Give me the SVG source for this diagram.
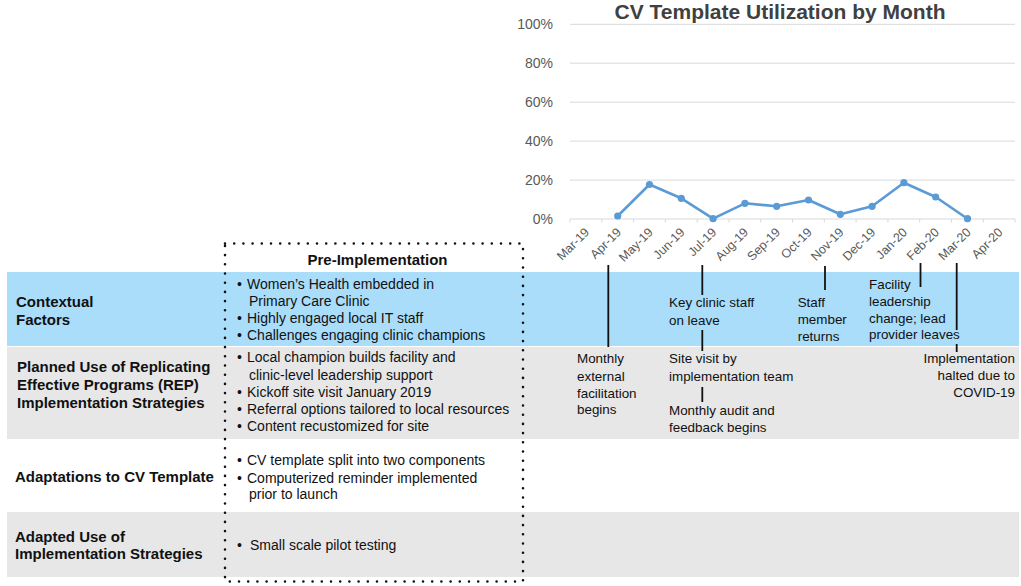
<svg xmlns="http://www.w3.org/2000/svg" width="1021" height="586" viewBox="0 0 1021 586">
<style>
.bg{fill:#ffffff}
.blue{fill:#a9ddfa}
.gray{fill:#e7e7e7}
.rowlab{font-family:"Liberation Sans",Arial,sans-serif;font-size:15px;font-weight:bold;fill:#111}
.bul{font-family:"Liberation Sans",Arial,sans-serif;font-size:14px;fill:#111}
.ann{font-family:"Liberation Sans",Arial,sans-serif;font-size:13.4px;fill:#111}
.title{font-family:"Liberation Sans",Arial,sans-serif;font-size:21px;font-weight:bold;fill:#404040}
.ylab{font-family:"Liberation Sans",Arial,sans-serif;font-size:14px;fill:#595959}
.xlab{font-family:"Liberation Sans",Arial,sans-serif;font-size:12.5px;fill:#595959}
.grid{stroke:#d9d9d9;stroke-width:1;fill:none}
.series{stroke:#5b9bd5;stroke-width:2.6;fill:none;stroke-linejoin:round}
.pt{fill:#5b9bd5}
.conn{stroke:#111;stroke-width:1.8;fill:none}
.dots{fill:none;stroke:#111;stroke-width:2.6;stroke-linecap:round;stroke-dasharray:0 9.2}
</style>
<rect class="bg" x="0" y="0" width="1021" height="586"/>

<g id="row-contextual">
<rect class="blue" x="7" y="272" width="1012" height="74"/>
<text class="rowlab" x="16" y="307">Contextual</text>
<text class="rowlab" x="16" y="325">Factors</text>
</g>
<g id="row-planned">
<rect class="gray" x="7" y="347" width="1012" height="92"/>
<text class="rowlab" x="17" y="372">Planned Use of Replicating</text>
<text class="rowlab" x="17" y="390">Effective Programs (REP)</text>
<text class="rowlab" x="17" y="408">Implementation Strategies</text>
</g>
<g id="row-adaptations">
<text class="rowlab" x="15" y="482">Adaptations to CV Template</text>
</g>
<g id="row-adapted">
<rect class="gray" x="7" y="512" width="1012" height="65"/>
<text class="rowlab" x="15" y="542">Adapted Use of</text>
<text class="rowlab" x="15" y="559">Implementation Strategies</text>
</g>

<g id="chart">
<text class="title" x="780" y="18.5" text-anchor="middle">CV Template Utilization by Month</text>
<g>
<line class="grid" x1="570" y1="24.3" x2="1015" y2="24.3"/>
<line class="grid" x1="570" y1="63.2" x2="1015" y2="63.2"/>
<line class="grid" x1="570" y1="102.2" x2="1015" y2="102.2"/>
<line class="grid" x1="570" y1="141.1" x2="1015" y2="141.1"/>
<line class="grid" x1="570" y1="180.1" x2="1015" y2="180.1"/>
<line class="grid" x1="570" y1="219" x2="1015" y2="219"/>
<path class="grid" d="M570,219v3.5M601.8,219v3.5M633.6,219v3.5M665.4,219v3.5M697.2,219v3.5M729,219v3.5M760.7,219v3.5M792.5,219v3.5M824.3,219v3.5M856.1,219v3.5M887.9,219v3.5M919.7,219v3.5M951.5,219v3.5M983.3,219v3.5M1015,219v3.5"/>
</g>
<g text-anchor="end">
<text class="ylab" x="553" y="29.3">100%</text>
<text class="ylab" x="553" y="68.2">80%</text>
<text class="ylab" x="553" y="107.2">60%</text>
<text class="ylab" x="553" y="146.1">40%</text>
<text class="ylab" x="553" y="185.1">20%</text>
<text class="ylab" x="553" y="224">0%</text>
</g>
<g text-anchor="end">
<text class="xlab" transform="translate(590,233) rotate(-45)">Mar-19</text>
<text class="xlab" transform="translate(621.8,233) rotate(-45)">Apr-19</text>
<text class="xlab" transform="translate(653.6,233) rotate(-45)">May-19</text>
<text class="xlab" transform="translate(685.4,233) rotate(-45)">Jun-19</text>
<text class="xlab" transform="translate(717.2,233) rotate(-45)">Jul-19</text>
<text class="xlab" transform="translate(749,233) rotate(-45)">Aug-19</text>
<text class="xlab" transform="translate(780.8,233) rotate(-45)">Sep-19</text>
<text class="xlab" transform="translate(812.6,233) rotate(-45)">Oct-19</text>
<text class="xlab" transform="translate(844.4,233) rotate(-45)">Nov-19</text>
<text class="xlab" transform="translate(876.2,233) rotate(-45)">Dec-19</text>
<text class="xlab" transform="translate(908,233) rotate(-45)">Jan-20</text>
<text class="xlab" transform="translate(939.8,233) rotate(-45)">Feb-20</text>
<text class="xlab" transform="translate(971.6,233) rotate(-45)">Mar-20</text>
<text class="xlab" transform="translate(1003.4,233) rotate(-45)">Apr-20</text>
</g>
<polyline class="series" points="617.7,216 649.5,184.5 681.3,198.3 713.1,218.7 744.9,203.3 776.7,206.3 808.5,200 840.3,214.3 872.1,206.3 903.9,182.7 935.7,197 967.5,218.7"/>
<g class="pt">
<circle cx="617.7" cy="216" r="3.6"/>
<circle cx="649.5" cy="184.5" r="3.6"/>
<circle cx="681.3" cy="198.3" r="3.6"/>
<circle cx="713.1" cy="218.7" r="3.6"/>
<circle cx="744.9" cy="203.3" r="3.6"/>
<circle cx="776.7" cy="206.3" r="3.6"/>
<circle cx="808.5" cy="200" r="3.6"/>
<circle cx="840.3" cy="214.3" r="3.6"/>
<circle cx="872.1" cy="206.3" r="3.6"/>
<circle cx="903.9" cy="182.7" r="3.6"/>
<circle cx="935.7" cy="197" r="3.6"/>
<circle cx="967.5" cy="218.7" r="3.6"/>
</g>
</g>

<g id="pre-implementation">
<rect class="dots" x="225" y="243.5" width="298" height="338"/>
<text class="rowlab" x="377.5" y="264.5" text-anchor="middle">Pre-Implementation</text>
<g class="bul">
<text x="237" y="289">•</text><text x="247" y="289">Women’s Health embedded in</text>
<text x="249" y="306">Primary Care Clinic</text>
<text x="237" y="323">•</text><text x="247" y="323">Highly engaged local IT staff</text>
<text x="237" y="340">•</text><text x="247" y="340">Challenges engaging clinic champions</text>
<text x="237" y="362">•</text><text x="247" y="362">Local champion builds facility and</text>
<text x="249" y="379.5">clinic-level leadership support</text>
<text x="237" y="397">•</text><text x="247" y="397">Kickoff site visit January 2019</text>
<text x="237" y="414">•</text><text x="247" y="414">Referral options tailored to local resources</text>
<text x="237" y="431">•</text><text x="247" y="431">Content recustomized for site</text>
<text x="237" y="465">•</text><text x="247" y="465">CV template split into two components</text>
<text x="237" y="482.5">•</text><text x="247" y="482.5">Computerized reminder implemented</text>
<text x="249" y="499">prior to launch</text>
<text x="237" y="549.5">•</text><text x="250" y="549.5">Small scale pilot testing</text>
</g>
</g>

<g id="connectors">
<line class="conn" x1="608.3" y1="265" x2="608.3" y2="347"/>
<line class="conn" x1="702.3" y1="265" x2="702.3" y2="295"/>
<line class="conn" x1="702.3" y1="330" x2="702.3" y2="351"/>
<line class="conn" x1="702.3" y1="387" x2="702.3" y2="402"/>
<line class="conn" x1="825" y1="266" x2="825" y2="290"/>
<line class="conn" x1="920.5" y1="263" x2="920.5" y2="287"/>
<line class="conn" x1="956.7" y1="263" x2="956.7" y2="330"/>
<line class="conn" x1="956.7" y1="344" x2="956.7" y2="352"/>
</g>

<g id="ann-monthly-facilitation" class="ann">
<text x="577" y="363.3">Monthly</text>
<text x="577" y="380.7">external</text>
<text x="577" y="397.7">facilitation</text>
<text x="577" y="414.3">begins</text>
</g>
<g id="ann-key-staff" class="ann">
<text x="669" y="306.7">Key clinic staff</text>
<text x="669" y="324.5">on leave</text>
</g>
<g id="ann-site-visit" class="ann">
<text x="669" y="363.3">Site visit by</text>
<text x="669" y="380.7">implementation team</text>
</g>
<g id="ann-audit" class="ann">
<text x="669" y="415">Monthly audit and</text>
<text x="669" y="431.7">feedback begins</text>
</g>
<g id="ann-staff-returns" class="ann">
<text x="797.7" y="306.7">Staff</text>
<text x="797.7" y="324">member</text>
<text x="797.7" y="340.7">returns</text>
</g>
<g id="ann-facility-leadership" class="ann">
<text x="869" y="288.5">Facility</text>
<text x="869" y="305.7">leadership</text>
<text x="869" y="322.7">change; lead</text>
<text x="869" y="339.3">provider leaves</text>
</g>
<g id="ann-halted" class="ann" text-anchor="end">
<text x="1015" y="362.7">Implementation</text>
<text x="1015" y="380">halted due to</text>
<text x="1015" y="396.7">COVID-19</text>
</g>
</svg>
